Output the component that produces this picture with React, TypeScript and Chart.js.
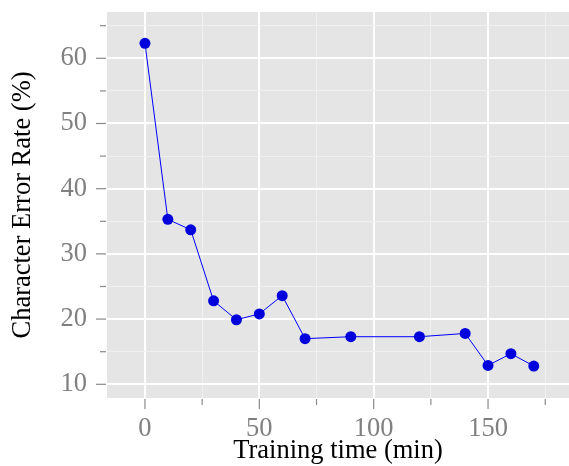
import React, { useEffect, useRef } from "react";
import { Chart, registerables } from "chart.js";

Chart.register(...registerables);

const trainingMinutes = [0, 10, 20, 30, 40, 50, 60, 70, 90, 120, 140, 150, 160, 170];
const errorRates = [62.3, 35.3, 33.7, 22.8, 19.9, 20.8, 23.6, 17.0, 17.3, 17.3, 17.8, 12.9, 14.7, 12.8];
const xTickValues = [0, 25, 50, 75, 100, 125, 150, 175];
const yTickValues = [10, 15, 20, 25, 30, 35, 40, 45, 50, 55, 60, 65];
const xTitle = "Training time (min)";
const yTitle = "Character Error Rate (%)";

const FONT = "'Liberation Serif', 'Times New Roman', serif";

const panelPlugin = {
  id: "panel",
  beforeDraw(chart: any) {
    const { ctx, chartArea } = chart;
    ctx.save();
    ctx.fillStyle = "#E5E5E5";
    ctx.fillRect(chartArea.left, chartArea.top, chartArea.right - chartArea.left, chartArea.bottom - chartArea.top);
    ctx.restore();
  },
  afterDraw(chart: any) {
    const { ctx, chartArea, scales } = chart;
    ctx.save();
    ctx.strokeStyle = "#8A8A8A";
    ctx.lineWidth = 1.2;
    xTickValues.forEach((v) => {
      const px = scales.x.getPixelForValue(v);
      const len = v % 50 === 0 ? 10 : 6;
      ctx.beginPath();
      ctx.moveTo(px, chartArea.bottom + 1);
      ctx.lineTo(px, chartArea.bottom + 1 + len);
      ctx.stroke();
    });
    yTickValues.forEach((v) => {
      const py = scales.y.getPixelForValue(v);
      const len = v % 10 === 0 ? 10 : 6;
      ctx.beginPath();
      ctx.moveTo(chartArea.left - 1, py);
      ctx.lineTo(chartArea.left - 1 - len, py);
      ctx.stroke();
    });
    ctx.restore();
  },
};

const zeroPad = (s: any) => {
  s.paddingTop = 0;
  s.paddingBottom = 0;
  s.paddingLeft = 0;
  s.paddingRight = 0;
};

export default function App() {
  const ref = useRef<HTMLCanvasElement | null>(null);
  useEffect(() => {
    if (!ref.current) return;
    const chart = new Chart(ref.current, {
      type: "line",
      data: {
        datasets: [
          {
            data: trainingMinutes.map((x, i) => ({ x, y: errorRates[i] })),
            borderColor: "#0000FF",
            borderWidth: 1,
            pointBackgroundColor: "#0000DD",
            pointBorderColor: "#0000DD",
            pointBorderWidth: 0,
            pointRadius: 5.5,
            tension: 0,
          },
        ],
      },
      options: {
        animation: false,
        responsive: false,
        devicePixelRatio: 1,
        layout: { autoPadding: false, padding: { top: 12, right: 0, left: 0, bottom: 0 } },
        plugins: { legend: { display: false }, tooltip: { enabled: false } },
        scales: {
          x: {
            type: "linear",
            min: -16.6,
            max: 185.4,
            afterFit: (s: any) => {
              s.height = 68;
              zeroPad(s);
            },
            afterBuildTicks: (s: any) => {
              s.ticks = xTickValues.map((value) => ({ value }));
            },
            border: { display: false },
            grid: {
              color: (c: any) => (c.tick && c.tick.value % 50 === 0 ? "#FFFFFF" : "#F0F0F0"),
              lineWidth: (c: any) => (c.tick && c.tick.value % 50 === 0 ? 2 : 1),
              tickLength: 10,
              tickColor: "rgba(0,0,0,0)",
            },
            ticks: {
              autoSkip: false,
              maxRotation: 0,
              padding: 5,
              color: "#808080",
              font: { family: FONT, size: 26.5 },
              callback: (v: any) => (Number(v) % 50 === 0 ? String(v) : ""),
            },
            title: {
              display: true,
              text: xTitle,
              color: "#000000",
              font: { family: FONT, size: 26.5 },
              padding: { top: 0, bottom: -1 },
            },
          },
          y: {
            type: "linear",
            min: 7.9,
            max: 67.1,
            afterFit: (s: any) => {
              s.width = 107;
              zeroPad(s);
            },
            afterBuildTicks: (s: any) => {
              s.ticks = yTickValues.map((value) => ({ value }));
            },
            border: { display: false },
            grid: {
              color: (c: any) => (c.tick && c.tick.value % 10 === 0 ? "#FFFFFF" : "#F0F0F0"),
              lineWidth: (c: any) => (c.tick && c.tick.value % 10 === 0 ? 2 : 1),
              tickLength: 10,
              tickColor: "rgba(0,0,0,0)",
            },
            ticks: {
              autoSkip: false,
              padding: 10,
              color: "#808080",
              font: { family: FONT, size: 26.5 },
              callback: (v: any) => (Number(v) % 10 === 0 ? String(v) : ""),
            },
            title: {
              display: true,
              text: yTitle,
              color: "#000000",
              font: { family: FONT, size: 26.5 },
              padding: { top: 7, bottom: 0 },
            },
          },
        },
      },
      plugins: [panelPlugin],
    });
    return () => chart.destroy();
  }, []);
  return (
    <div style={{ position: "absolute", left: 0, top: 0, width: 569, height: 466 }}>
      <canvas ref={ref} width={569} height={466} style={{ width: 569, height: 466 }} />
    </div>
  );
}
